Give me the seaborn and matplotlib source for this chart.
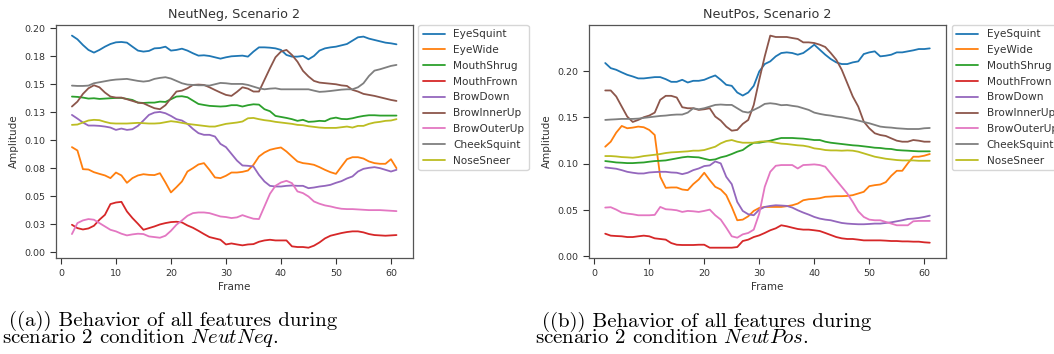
import numpy as np
import pandas as pd
import matplotlib
matplotlib.use("Agg")
import matplotlib.pyplot as plt
import seaborn as sns

frames = list(range(2, 62))
features = ["EyeSquint", "EyeWide", "MouthShrug", "MouthFrown", "BrowDown",
            "BrowInnerUp", "BrowOuterUp", "CheekSquint", "NoseSneer"]

# ---------------- NeutNeg, Scenario 2 ----------------
neg_eye_squint = [0.1935,0.1902,0.1851,0.1807,0.1783,0.1807,0.1836,0.1860,0.1875,0.1878,
                  0.1872,0.1836,0.1801,0.1792,0.1798,0.1821,0.1824,0.1836,0.1801,0.1807,
                  0.1818,0.1801,0.1777,0.1756,0.1759,0.1753,0.1741,0.1729,0.1741,0.1750,
                  0.1753,0.1756,0.1747,0.1792,0.1830,0.1830,0.1827,0.1821,0.1807,0.1762,
                  0.1747,0.1747,0.1753,0.1723,0.1753,0.1801,0.1821,0.1830,0.1836,0.1848,
                  0.1860,0.1890,0.1920,0.1926,0.1908,0.1896,0.1884,0.1872,0.1866,0.1857]
neg_eye_wide = [0.0938,0.0908,0.0741,0.0738,0.0714,0.0699,0.0685,0.0661,0.0711,0.0685,
                0.0619,0.0661,0.0685,0.0696,0.0690,0.0688,0.0705,0.0622,0.0533,0.0580,
                0.0631,0.0720,0.0750,0.0783,0.0795,0.0735,0.0667,0.0661,0.0682,0.0711,
                0.0711,0.0717,0.0729,0.0780,0.0854,0.0890,0.0914,0.0926,0.0935,0.0899,
                0.0854,0.0810,0.0795,0.0789,0.0780,0.0759,0.0735,0.0714,0.0699,0.0765,
                0.0830,0.0848,0.0848,0.0836,0.0810,0.0795,0.0789,0.0789,0.0830,0.0750]
neg_mouth_shrug = [0.1390,0.1387,0.1381,0.1372,0.1375,0.1369,0.1372,0.1375,0.1378,0.1378,
                   0.1369,0.1360,0.1336,0.1333,0.1336,0.1336,0.1345,0.1342,0.1366,0.1390,
                   0.1393,0.1384,0.1354,0.1324,0.1315,0.1307,0.1304,0.1301,0.1304,0.1313,
                   0.1313,0.1301,0.1313,0.1321,0.1318,0.1277,0.1259,0.1217,0.1208,0.1199,
                   0.1188,0.1173,0.1182,0.1164,0.1167,0.1173,0.1170,0.1193,0.1202,0.1190,
                   0.1188,0.1196,0.1208,0.1217,0.1223,0.1223,0.1220,0.1220,0.1220,0.1220]
neg_mouth_frown = [0.0244,0.0214,0.0202,0.0211,0.0235,0.0289,0.0333,0.0429,0.0443,0.0449,
                   0.0363,0.0304,0.0253,0.0199,0.0214,0.0229,0.0247,0.0259,0.0268,0.0271,
                   0.0265,0.0238,0.0217,0.0190,0.0161,0.0134,0.0122,0.0110,0.0068,0.0077,
                   0.0068,0.0060,0.0068,0.0071,0.0092,0.0104,0.0110,0.0104,0.0104,0.0104,
                   0.0051,0.0045,0.0045,0.0039,0.0057,0.0086,0.0122,0.0146,0.0158,0.0170,
                   0.0179,0.0185,0.0185,0.0176,0.0161,0.0152,0.0149,0.0146,0.0149,0.0152]
neg_brow_down = [0.1226,0.1193,0.1158,0.1131,0.1131,0.1128,0.1122,0.1113,0.1092,0.1104,
                 0.1092,0.1098,0.1128,0.1176,0.1226,0.1247,0.1253,0.1241,0.1217,0.1188,
                 0.1176,0.1146,0.1101,0.1063,0.1048,0.1048,0.1033,0.0967,0.0938,0.0878,
                 0.0818,0.0774,0.0771,0.0765,0.0690,0.0631,0.0592,0.0586,0.0586,0.0592,
                 0.0595,0.0592,0.0592,0.0571,0.0577,0.0586,0.0592,0.0601,0.0619,0.0634,
                 0.0658,0.0676,0.0720,0.0744,0.0753,0.0759,0.0750,0.0735,0.0720,0.0735]
neg_brow_inner_up = [0.1301,0.1345,0.1414,0.1464,0.1491,0.1473,0.1426,0.1390,0.1381,0.1381,
                     0.1366,0.1351,0.1336,0.1330,0.1307,0.1286,0.1277,0.1313,0.1375,0.1435,
                     0.1443,0.1464,0.1494,0.1497,0.1494,0.1473,0.1449,0.1426,0.1405,0.1396,
                     0.1432,0.1473,0.1461,0.1435,0.1435,0.1539,0.1643,0.1741,0.1792,0.1807,
                     0.1762,0.1702,0.1620,0.1570,0.1530,0.1515,0.1510,0.1505,0.1500,0.1490,
                     0.1485,0.1450,0.1435,0.1414,0.1405,0.1396,0.1384,0.1372,0.1360,0.1351]
neg_brow_outer_up = [0.0161,0.0259,0.0283,0.0295,0.0289,0.0259,0.0229,0.0199,0.0185,0.0164,
                     0.0149,0.0158,0.0164,0.0161,0.0140,0.0134,0.0128,0.0146,0.0190,0.0244,
                     0.0283,0.0324,0.0348,0.0354,0.0354,0.0348,0.0333,0.0318,0.0313,0.0304,
                     0.0310,0.0330,0.0313,0.0298,0.0295,0.0408,0.0521,0.0592,0.0622,0.0637,
                     0.0616,0.0542,0.0527,0.0497,0.0452,0.0432,0.0417,0.0408,0.0396,0.0387,
                     0.0384,0.0384,0.0381,0.0378,0.0375,0.0375,0.0375,0.0372,0.0369,0.0366]
neg_cheek_squint = [0.1488,0.1485,0.1485,0.1488,0.1509,0.1518,0.1527,0.1536,0.1542,0.1545,
                    0.1548,0.1539,0.1530,0.1524,0.1530,0.1548,0.1557,0.1563,0.1551,0.1530,
                    0.1509,0.1497,0.1494,0.1491,0.1491,0.1488,0.1500,0.1512,0.1509,0.1503,
                    0.1503,0.1503,0.1494,0.1479,0.1464,0.1455,0.1461,0.1464,0.1455,0.1455,
                    0.1455,0.1455,0.1455,0.1455,0.1443,0.1432,0.1435,0.1440,0.1446,0.1452,
                    0.1455,0.1455,0.1473,0.1509,0.1574,0.1622,0.1634,0.1649,0.1664,0.1673]
neg_nose_sneer = [0.1137,0.1140,0.1158,0.1176,0.1182,0.1179,0.1164,0.1152,0.1149,0.1149,
                  0.1149,0.1152,0.1155,0.1152,0.1149,0.1149,0.1152,0.1161,0.1170,0.1164,
                  0.1155,0.1146,0.1140,0.1134,0.1128,0.1122,0.1122,0.1134,0.1146,0.1152,
                  0.1158,0.1167,0.1196,0.1199,0.1188,0.1179,0.1173,0.1164,0.1158,0.1152,
                  0.1146,0.1137,0.1134,0.1125,0.1119,0.1113,0.1110,0.1110,0.1110,0.1116,
                  0.1122,0.1113,0.1128,0.1128,0.1146,0.1158,0.1164,0.1173,0.1176,0.1188]

# ---------------- NeutPos, Scenario 2 ----------------
pos_eye_squint = [0.2087,0.2032,0.2014,0.1986,0.1960,0.1942,0.1921,0.1921,0.1928,0.1935,
                  0.1935,0.1913,0.1884,0.1884,0.1906,0.1877,0.1895,0.1895,0.1906,0.1931,
                  0.1953,0.1906,0.1852,0.1841,0.1769,0.1736,0.1769,0.1841,0.1996,0.2076,
                  0.2105,0.2159,0.2195,0.2202,0.2195,0.2177,0.2195,0.2238,0.2285,0.2231,
                  0.2177,0.2130,0.2094,0.2076,0.2076,0.2094,0.2105,0.2184,0.2202,0.2213,
                  0.2159,0.2166,0.2177,0.2202,0.2202,0.2213,0.2224,0.2238,0.2238,0.2245]
pos_eye_wide = [0.1184,0.1238,0.1336,0.1408,0.1383,0.1390,0.1401,0.1394,0.1365,0.1310,
                0.0859,0.0740,0.0744,0.0744,0.0722,0.0715,0.0780,0.0830,0.0903,0.0823,
                0.0751,0.0722,0.0661,0.0534,0.0390,0.0397,0.0433,0.0491,0.0523,0.0534,
                0.0534,0.0534,0.0534,0.0542,0.0552,0.0570,0.0606,0.0617,0.0621,0.0628,
                0.0643,0.0646,0.0650,0.0650,0.0653,0.0661,0.0679,0.0697,0.0758,0.0769,
                0.0776,0.0801,0.0870,0.0924,0.0924,0.1004,0.1076,0.1076,0.1087,0.1105]
pos_mouth_shrug = [0.1029,0.1022,0.1014,0.1011,0.1007,0.1007,0.1011,0.1014,0.1022,0.1029,
                   0.1032,0.1036,0.1047,0.1058,0.1069,0.1076,0.1072,0.1069,0.1054,0.1040,
                   0.1047,0.1069,0.1083,0.1105,0.1130,0.1148,0.1191,0.1227,0.1227,0.1238,
                   0.1249,0.1264,0.1278,0.1278,0.1278,0.1274,0.1271,0.1264,0.1256,0.1256,
                   0.1238,0.1227,0.1220,0.1213,0.1206,0.1199,0.1195,0.1188,0.1181,0.1173,
                   0.1170,0.1162,0.1159,0.1148,0.1144,0.1141,0.1137,0.1134,0.1134,0.1134]
pos_mouth_frown = [0.0245,0.0224,0.0220,0.0217,0.0209,0.0209,0.0217,0.0224,0.0217,0.0195,
                   0.0188,0.0181,0.0144,0.0126,0.0123,0.0123,0.0123,0.0126,0.0126,0.0094,
                   0.0094,0.0094,0.0094,0.0094,0.0101,0.0166,0.0181,0.0209,0.0227,0.0253,
                   0.0282,0.0303,0.0336,0.0325,0.0310,0.0296,0.0289,0.0289,0.0282,0.0274,
                   0.0253,0.0231,0.0209,0.0195,0.0188,0.0188,0.0181,0.0173,0.0173,0.0173,
                   0.0173,0.0170,0.0166,0.0166,0.0162,0.0162,0.0159,0.0159,0.0152,0.0148]
pos_brow_down = [0.0960,0.0953,0.0946,0.0931,0.0913,0.0903,0.0895,0.0895,0.0906,0.0910,
                 0.0913,0.0913,0.0906,0.0903,0.0888,0.0903,0.0931,0.0949,0.0975,0.0982,
                 0.1025,0.1004,0.0859,0.0780,0.0588,0.0491,0.0455,0.0444,0.0505,0.0534,
                 0.0545,0.0552,0.0549,0.0545,0.0527,0.0498,0.0473,0.0451,0.0426,0.0408,
                 0.0397,0.0390,0.0375,0.0361,0.0354,0.0350,0.0347,0.0347,0.0350,0.0354,
                 0.0354,0.0361,0.0368,0.0379,0.0390,0.0404,0.0408,0.0415,0.0426,0.0440]
pos_brow_inner_up = [0.1791,0.1791,0.1726,0.1617,0.1509,0.1451,0.1473,0.1502,0.1520,0.1552,
                     0.1690,0.1733,0.1733,0.1715,0.1610,0.1599,0.1599,0.1581,0.1588,0.1599,
                     0.1509,0.1466,0.1401,0.1357,0.1365,0.1430,0.1473,0.1635,0.1906,0.2159,
                     0.2383,0.2368,0.2368,0.2368,0.2357,0.2347,0.2310,0.2310,0.2303,0.2285,
                     0.2260,0.2195,0.2123,0.2014,0.1870,0.1726,0.1617,0.1455,0.1383,0.1329,
                     0.1310,0.1300,0.1274,0.1249,0.1238,0.1238,0.1256,0.1249,0.1238,0.1238]
pos_brow_outer_up = [0.0527,0.0531,0.0505,0.0473,0.0462,0.0455,0.0444,0.0444,0.0444,0.0448,
                     0.0534,0.0509,0.0505,0.0498,0.0480,0.0491,0.0487,0.0480,0.0491,0.0505,
                     0.0444,0.0397,0.0310,0.0217,0.0202,0.0238,0.0253,0.0289,0.0462,0.0751,
                     0.0913,0.0978,0.0986,0.0986,0.0986,0.0949,0.0986,0.0989,0.0993,0.0986,
                     0.0968,0.0895,0.0823,0.0751,0.0679,0.0588,0.0487,0.0426,0.0397,0.0390,
                     0.0390,0.0372,0.0354,0.0336,0.0336,0.0336,0.0379,0.0383,0.0383,0.0383]
pos_cheek_squint = [0.1473,0.1477,0.1480,0.1484,0.1484,0.1484,0.1487,0.1495,0.1502,0.1509,
                    0.1516,0.1520,0.1527,0.1531,0.1531,0.1552,0.1599,0.1588,0.1599,0.1617,
                    0.1635,0.1639,0.1635,0.1635,0.1599,0.1563,0.1552,0.1581,0.1610,0.1646,
                    0.1653,0.1646,0.1632,0.1635,0.1625,0.1617,0.1599,0.1581,0.1552,0.1538,
                    0.1527,0.1520,0.1509,0.1502,0.1491,0.1480,0.1466,0.1451,0.1437,0.1419,
                    0.1401,0.1394,0.1390,0.1383,0.1379,0.1375,0.1375,0.1375,0.1383,0.1386]
pos_nose_sneer = [0.1083,0.1083,0.1079,0.1072,0.1069,0.1065,0.1072,0.1083,0.1090,0.1097,
                  0.1105,0.1116,0.1123,0.1126,0.1130,0.1134,0.1141,0.1141,0.1148,0.1166,
                  0.1184,0.1220,0.1245,0.1256,0.1238,0.1227,0.1227,0.1227,0.1238,0.1242,
                  0.1238,0.1227,0.1217,0.1213,0.1206,0.1199,0.1195,0.1184,0.1166,0.1159,
                  0.1148,0.1144,0.1144,0.1141,0.1144,0.1141,0.1130,0.1112,0.1094,0.1076,
                  0.1065,0.1054,0.1047,0.1040,0.1036,0.1036,0.1036,0.1032,0.1032,0.1032]

neg_series = [neg_eye_squint, neg_eye_wide, neg_mouth_shrug, neg_mouth_frown, neg_brow_down,
              neg_brow_inner_up, neg_brow_outer_up, neg_cheek_squint, neg_nose_sneer]
pos_series = [pos_eye_squint, pos_eye_wide, pos_mouth_shrug, pos_mouth_frown, pos_brow_down,
              pos_brow_inner_up, pos_brow_outer_up, pos_cheek_squint, pos_nose_sneer]

titles = ["NeutNeg, Scenario 2", "NeutPos, Scenario 2"]
x_ticks = [0, 10, 20, 30, 40, 50, 60]
neg_y_ticks = [0.0, 0.025, 0.05, 0.075, 0.1, 0.125, 0.15, 0.175, 0.2]
neg_y_labels = ["0.00", "0.03", "0.05", "0.08", "0.10", "0.13", "0.15", "0.18", "0.20"]
pos_y_ticks = [0.0, 0.05, 0.1, 0.15, 0.2]
pos_y_labels = ["0.00", "0.05", "0.10", "0.15", "0.20"]
captions = [("((a)) Behavior of all features during", "scenario 2 condition ", "NeutNeq"),
            ("((b)) Behavior of all features during", "scenario 2 condition ", "NeutPos")]


def to_long(series):
    rows = []
    for name, vals in zip(features, series):
        for f, v in zip(frames, vals):
            rows.append({"Frame": f, "Amplitude": v, "Feature": name})
    return pd.DataFrame(rows)


sns.set_style("ticks")
plt.rcParams["font.family"] = ["DejaVu Sans"]
plt.rcParams["mathtext.fontset"] = "cm"

fig = plt.figure(figsize=(10.54, 3.54), dpi=100)
ax_l = fig.add_axes([55.7 / 1054, 1 - 258.3 / 354, 357 / 1054, 233.3 / 354])
ax_r = fig.add_axes([589 / 1054, 1 - 258.3 / 354, 357 / 1054, 233.3 / 354])

palette = sns.color_palette("tab10", 9)
text_col = "#333333"

for ax, series, title, yt, yl in [(ax_l, neg_series, titles[0], neg_y_ticks, neg_y_labels),
                                  (ax_r, pos_series, titles[1], pos_y_ticks, pos_y_labels)]:
    df = to_long(series)
    sns.lineplot(data=df, x="Frame", y="Amplitude", hue="Feature", hue_order=features,
                 palette=palette, linewidth=1.3, ax=ax, legend=True)
    ax.set_xticks(x_ticks)
    ax.set_yticks(yt)
    ax.set_yticklabels(yl)
    ax.tick_params(labelsize=6.8, colors=text_col, length=4, width=0.8)
    ax.set_xlabel("Frame", fontsize=7.5, color=text_col, labelpad=3)
    ax.set_ylabel("Amplitude", fontsize=7.5, color=text_col, labelpad=4)
    ax.set_title(title, fontsize=9.2, color=text_col, pad=5)
    for sp in ax.spines.values():
        sp.set_color("#555555")
        sp.set_linewidth(0.9)
    handles, labels = ax.get_legend_handles_labels()
    leg = ax.legend(handles, labels, loc="upper left", bbox_to_anchor=(1.016, 1.0),
                    borderaxespad=0, fontsize=7.6, labelspacing=0.55, handlelength=2.1,
                    frameon=True, fancybox=True, edgecolor="#cccccc")
    for t in leg.get_texts():
        t.set_color(text_col)

cap_kw = dict(fontsize=15, family="cmr10", color="black", va="baseline", ha="left",
              linespacing=0.78, multialignment="left")
for (line1, line2, cond), x0 in zip(captions, [2, 535]):
    txt = " " + line1 + "\n" + line2 + r"$\mathit{" + cond + "}$."
    fig.text(x0 / 1054, 1 - 343 / 354, txt, **cap_kw)

fig.savefig("out.png", dpi=100)
